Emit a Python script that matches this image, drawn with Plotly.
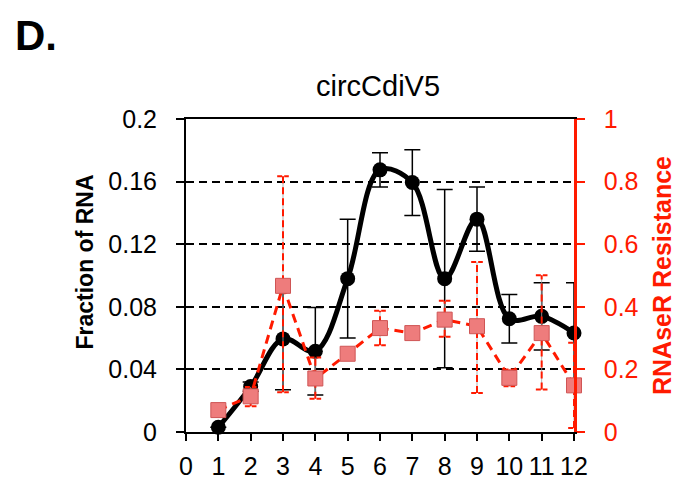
import plotly.graph_objects as go

# ---- data ----
fractions_x = [1, 2, 3, 4, 5, 6, 7, 8, 9, 10, 11, 12]
fraction_rna = [0.003, 0.029, 0.0595, 0.0516, 0.098, 0.1675, 0.1594, 0.098, 0.136, 0.0724, 0.0739, 0.0633]
fraction_err = [0.0, 0.003, 0.0325, 0.028, 0.038, 0.011, 0.021, 0.057, 0.0205, 0.0155, 0.0215, 0.032]

rnaser_res = [0.07, 0.114, 0.467, 0.171, 0.25, 0.332, 0.316, 0.359, 0.338, 0.173, 0.316, 0.149]
rnaser_err_plus = [0.015, 0.03, 0.35, 0.067, 0.0, 0.055, 0.0, 0.06, 0.205, 0.027, 0.185, 0.136]
rnaser_err_minus = [0.015, 0.032, 0.34, 0.065, 0.0, 0.055, 0.0, 0.055, 0.213, 0.027, 0.18, 0.136]

left_ticks = [0, 0.04, 0.08, 0.12, 0.16, 0.2]
left_tick_text = ["0", "0.04", "0.08", "0.12", "0.16", "0.2"]
right_ticks = [0, 0.2, 0.4, 0.6, 0.8, 1.0]
right_tick_text = ["0", "0.2", "0.4", "0.6", "0.8", "1"]
x_ticks = list(range(0, 13))

FONT = "Liberation Sans, Arial, sans-serif"
RED = "#ff1a00"

W, H = 694, 484
L, R, T, B = 185.5, 119.5, 119, 51.5
pw, ph = W - L - R, H - T - B


def px_x(px):
    return (px - L) / pw


def px_y(py):
    return (H - B - py) / ph


# red dashed error segments built from data
seg_x, seg_y, cap_x, cap_y = [], [], [], []
cw = 0.18
for xi, yi, ep, em in zip(fractions_x, rnaser_res, rnaser_err_plus, rnaser_err_minus):
    if ep == 0 and em == 0:
        continue
    seg_x += [xi, xi, None]
    seg_y += [yi - em, yi + ep, None]
    for v in (yi - em, yi + ep):
        cap_x += [xi - cw, xi + cw, None]
        cap_y += [v, v, None]

fig = go.Figure()

# thin grey core of red error bars
fig.add_trace(go.Scatter(x=seg_x, y=seg_y, mode="lines", yaxis="y2",
                         line=dict(color="rgba(160,160,160,0.8)", width=1),
                         hoverinfo="skip", showlegend=False, cliponaxis=False))
fig.add_trace(go.Scatter(x=seg_x, y=seg_y, mode="lines", yaxis="y2",
                         line=dict(color=RED, width=2, dash="7px,4px"),
                         hoverinfo="skip", showlegend=False, cliponaxis=False))
fig.add_trace(go.Scatter(x=cap_x, y=cap_y, mode="lines", yaxis="y2",
                         line=dict(color=RED, width=2, dash="5px,2px"),
                         hoverinfo="skip", showlegend=False, cliponaxis=False))

# black series
fig.add_trace(go.Scatter(
    x=fractions_x, y=fraction_rna, mode="lines+markers", yaxis="y",
    line=dict(color="black", width=5, shape="spline", smoothing=1.0),
    marker=dict(symbol="circle", size=15, color="black"),
    error_y=dict(type="data", array=fraction_err, visible=True,
                 color="black", thickness=1.5, width=8),
    showlegend=False, cliponaxis=False))

# red series
fig.add_trace(go.Scatter(
    x=fractions_x, y=rnaser_res, mode="lines+markers", yaxis="y2",
    line=dict(color=RED, width=3, dash="9px,6px"),
    marker=dict(symbol="square", size=15, color="#ee7c7c",
                line=dict(color="#cf5555", width=1)),
    showlegend=False, cliponaxis=False))

fig.update_layout(
    width=W, height=H,
    margin=dict(l=L, r=R, t=T, b=B),
    paper_bgcolor="white", plot_bgcolor="white",
    font=dict(family=FONT, color="black"),
    xaxis=dict(range=[0, 12], tickvals=x_ticks, ticks="outside", ticklen=7,
               tickwidth=1.5, tickcolor="black", showline=True, linecolor="black",
               linewidth=2, mirror=True, showgrid=False, zeroline=False,
               tickfont=dict(size=25, family=FONT, color="black"),
               ticklabelstandoff=4, automargin=False),
    yaxis=dict(range=[0, 0.2], tickvals=left_ticks, ticktext=left_tick_text,
               ticks="outside", ticklen=8, tickwidth=1.5, tickcolor="black",
               showline=True, linecolor="black", linewidth=2,
               showgrid=True, gridcolor="black", gridwidth=1.5, griddash="8px,5px",
               zeroline=False, tickfont=dict(size=25, family=FONT, color="black"),
               ticklabelstandoff=14, automargin=False),
    yaxis2=dict(range=[0, 1], tickvals=right_ticks, ticktext=right_tick_text,
                overlaying="y", side="right", ticks="outside", ticklen=8,
                tickwidth=1.5, tickcolor=RED, showline=True, linecolor=RED,
                linewidth=2.5, showgrid=False, zeroline=False,
                tickfont=dict(size=25, family=FONT, color=RED),
                ticklabelstandoff=14, automargin=False),
    annotations=[
        dict(text="D.", x=px_x(12), y=px_y(10), xref="paper", yref="paper",
             xanchor="left", yanchor="top", showarrow=False,
             font=dict(size=42, family=FONT, color="black", weight="bold")),
        dict(text="circCdiV5", x=px_x(378), y=px_y(86), xref="paper", yref="paper",
             xanchor="center", yanchor="middle", showarrow=False,
             font=dict(size=29, family=FONT, color="black")),
        dict(text="Fraction of RNA", x=px_x(84), y=px_y(262), xref="paper", yref="paper",
             xanchor="center", yanchor="middle", textangle=-90, showarrow=False,
             font=dict(size=23, family=FONT, color="black", weight="bold")),
        dict(text="RNAseR Resistance", x=px_x(662), y=px_y(276), xref="paper", yref="paper",
             xanchor="center", yanchor="middle", textangle=-90, showarrow=False,
             font=dict(size=25, family=FONT, color=RED, weight="bold")),
    ],
)

fig.write_html("out.html")
